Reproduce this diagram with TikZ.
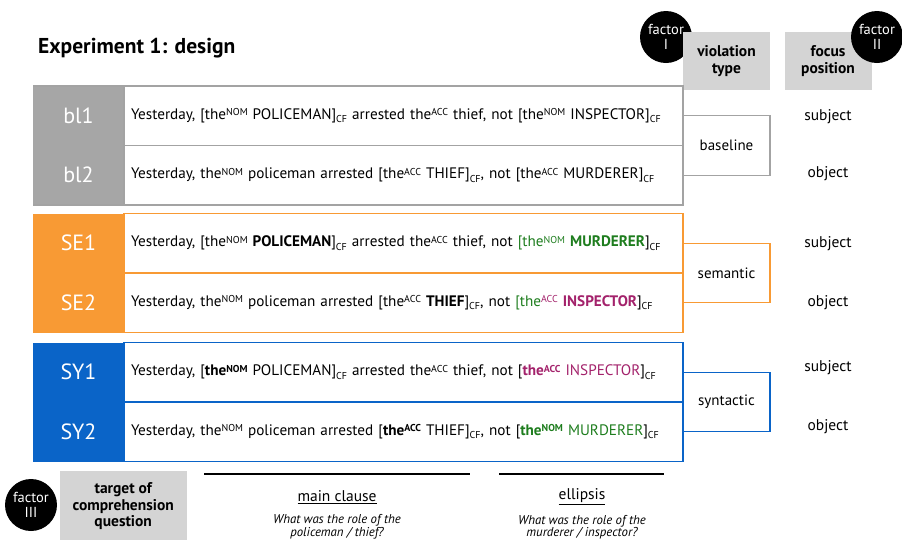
\documentclass[tikz,border=0pt]{standalone}
\usepackage{fontspec}
\setmainfont{PT Sans}
\usetikzlibrary{positioning}

\definecolor{blgrey}{HTML}{A6A6A6}
\definecolor{blline}{HTML}{A3A3A3}
\definecolor{hdrgrey}{HTML}{D4D4D4}
\definecolor{seorange}{HTML}{F89A34}
\definecolor{syblue}{HTML}{0A64C8}
\definecolor{wgreen}{HTML}{1E7D1E}
\definecolor{wmagenta}{HTML}{A3226B}

% case superscripts and focus subscript
\newcommand{\cs}[1]{\raisebox{0.5ex}{\fontsize{10}{10}\selectfont #1}}
\newcommand{\cf}{\raisebox{-0.4ex}{\fontsize{10}{10}\selectfont CF}}

\tikzset{
  lab/.style={minimum width=91, minimum height=59.5, inner sep=0, outer sep=0,
    text=white, font=\fontsize{22}{22}\selectfont},
  sent/.style={draw, line width=1.4, minimum height=59.5, text width=545,
    inner xsep=7, inner ysep=0, outer sep=0, align=left,
    font=\fontsize{15.2}{17}\selectfont},
  vbox/.style={draw, line width=1.4, minimum width=87, minimum height=59.5,
    inner sep=0, outer sep=0, font=\fontsize{15}{17}\selectfont},
  hdr/.style={fill=hdrgrey, minimum width=87, minimum height=58, inner sep=0,
    align=center, font=\bfseries\fontsize{15.5}{17.5}\selectfont},
  factor/.style={circle, fill=black, text=white, minimum size=52, inner sep=0,
    align=center, font=\fontsize{14.5}{15}\selectfont},
  focus/.style={font=\fontsize{15.5}{17}\selectfont},
  rule/.style={line width=2.6, black},
  qtitle/.style={font=\fontsize{15.5}{17}\selectfont},
  qtext/.style={align=center, font=\itshape\fontsize{12.8}{12.5}\selectfont},
}

\begin{document}
\begin{tikzpicture}[x=1pt, y=-1pt]
\useasboundingbox (0,0) rectangle (902,539);

% title
\node[anchor=west, inner sep=0, font=\bfseries\fontsize{21.5}{22}\selectfont] (title) at (38,48) {Experiment 1: design};

% factor I behind its header, factor II in front of its header
\node[factor] (f1) at (666,37) {factor\\I};
\node[hdr] (vt) at (726.5,61) {violation\\type};
\node[hdr] (fp) at (828,61) {focus\\position};
\node[factor] (f2) at (877,37) {factor\\II};

% ---- baseline group
\node[lab, fill=blgrey] (bl1) at (78.5,115.75) {bl1};
\node[lab, fill=blgrey] (bl2) at (78.5,175.25) {bl2};
\node[sent, draw=blline, right=0 of bl1] (s1) {Yesterday, [the\cs{NOM} POLICEMAN]\cf{} arrested the\cs{ACC} thief, not [the\cs{NOM} INSPECTOR]\cf};
\node[sent, draw=blline, right=0 of bl2] (s2) {Yesterday, the\cs{NOM} policeman arrested [the\cs{ACC} THIEF]\cf, not [the\cs{ACC} MURDERER]\cf};
\node[vbox, draw=blline, anchor=west] (vbl) at (s1.south east) {baseline};
\draw[blline, line width=1.4] (bl1.north west) -- (s1.north west);
\draw[blline, line width=1.4] (bl2.south west) -- (s2.south west);

% ---- semantic group
\node[lab, fill=seorange] (se1) at (78.5,243.25) {SE1};
\node[lab, fill=seorange] (se2) at (78.5,302.75) {SE2};
\node[sent, draw=seorange, right=0 of se1] (s3) {Yesterday, [the\cs{NOM} \textbf{POLICEMAN}]\cf{} arrested the\cs{ACC} thief, not \textcolor{wgreen}{[the\cs{NOM} \textbf{MURDERER}}]\cf};
\node[sent, draw=seorange, right=0 of se2] (s4) {Yesterday, the\cs{NOM} policeman arrested [the\cs{ACC} \textbf{THIEF}]\cf, not \textcolor{wgreen}{[the}\textcolor{wmagenta}{\cs{ACC} \textbf{INSPECTOR}}]\cf};
\node[vbox, draw=seorange, anchor=west] (vse) at (s3.south east) {semantic};

% ---- syntactic group
\node[lab, fill=syblue] (sy1) at (78.5,372.25) {SY1};
\node[lab, fill=syblue] (sy2) at (78.5,431.75) {SY2};
\node[sent, draw=syblue, right=0 of sy1] (s5) {Yesterday, [\textbf{the\cs{\bfseries NOM}} POLICEMAN]\cf{} arrested the\cs{ACC} thief, not [\textcolor{wmagenta}{\textbf{the\cs{\bfseries ACC}} INSPECTOR}]\cf};
\node[sent, draw=syblue, right=0 of sy2] (s6) {Yesterday, the\cs{NOM} policeman arrested [\textbf{the\cs{\bfseries ACC}} THIEF]\cf, not [\textcolor{wgreen}{\textbf{the\cs{\bfseries NOM}} MURDERER}]\cf};
\node[vbox, draw=syblue, anchor=west] (vsy) at (s5.south east) {syntactic};

% ---- focus position per row
\node[focus] (p1) at (828,117) {subject};
\node[focus] (p2) at (828,174) {object};
\node[focus] (p3) at (828,244) {subject};
\node[focus] (p4) at (828,303) {object};
\node[focus] (p5) at (828,368) {subject};
\node[focus] (p6) at (828,427) {object};

% ---- comprehension question target
\node[hdr, minimum width=127, minimum height=70, anchor=north west, font=\bfseries\fontsize{15.5}{16.5}\selectfont] (tq) at (59.5,471) {target of\\comprehension\\question};
\node[factor, minimum size=52] (f3) at (31,505) {factor\\III};

\coordinate (m1) at (204,474);
\coordinate (m2) at (470,474);
\coordinate (e1) at (499,474);
\coordinate (e2) at (664,474);
\draw[rule] (m1) -- (m2);
\draw[rule] (e1) -- (e2);

\node[qtitle] (mc) at (337,497) {\underline{main clause}};
\node[qtext] (mq) at (337,527) {What was the role of the\\policeman / thief?};
\node[qtitle] (el) at (582,497) {\underline{ellipsis}};
\node[qtext] (eq) at (582,527) {What was the role of the\\murderer / inspector?};
\end{tikzpicture}
\end{document}
